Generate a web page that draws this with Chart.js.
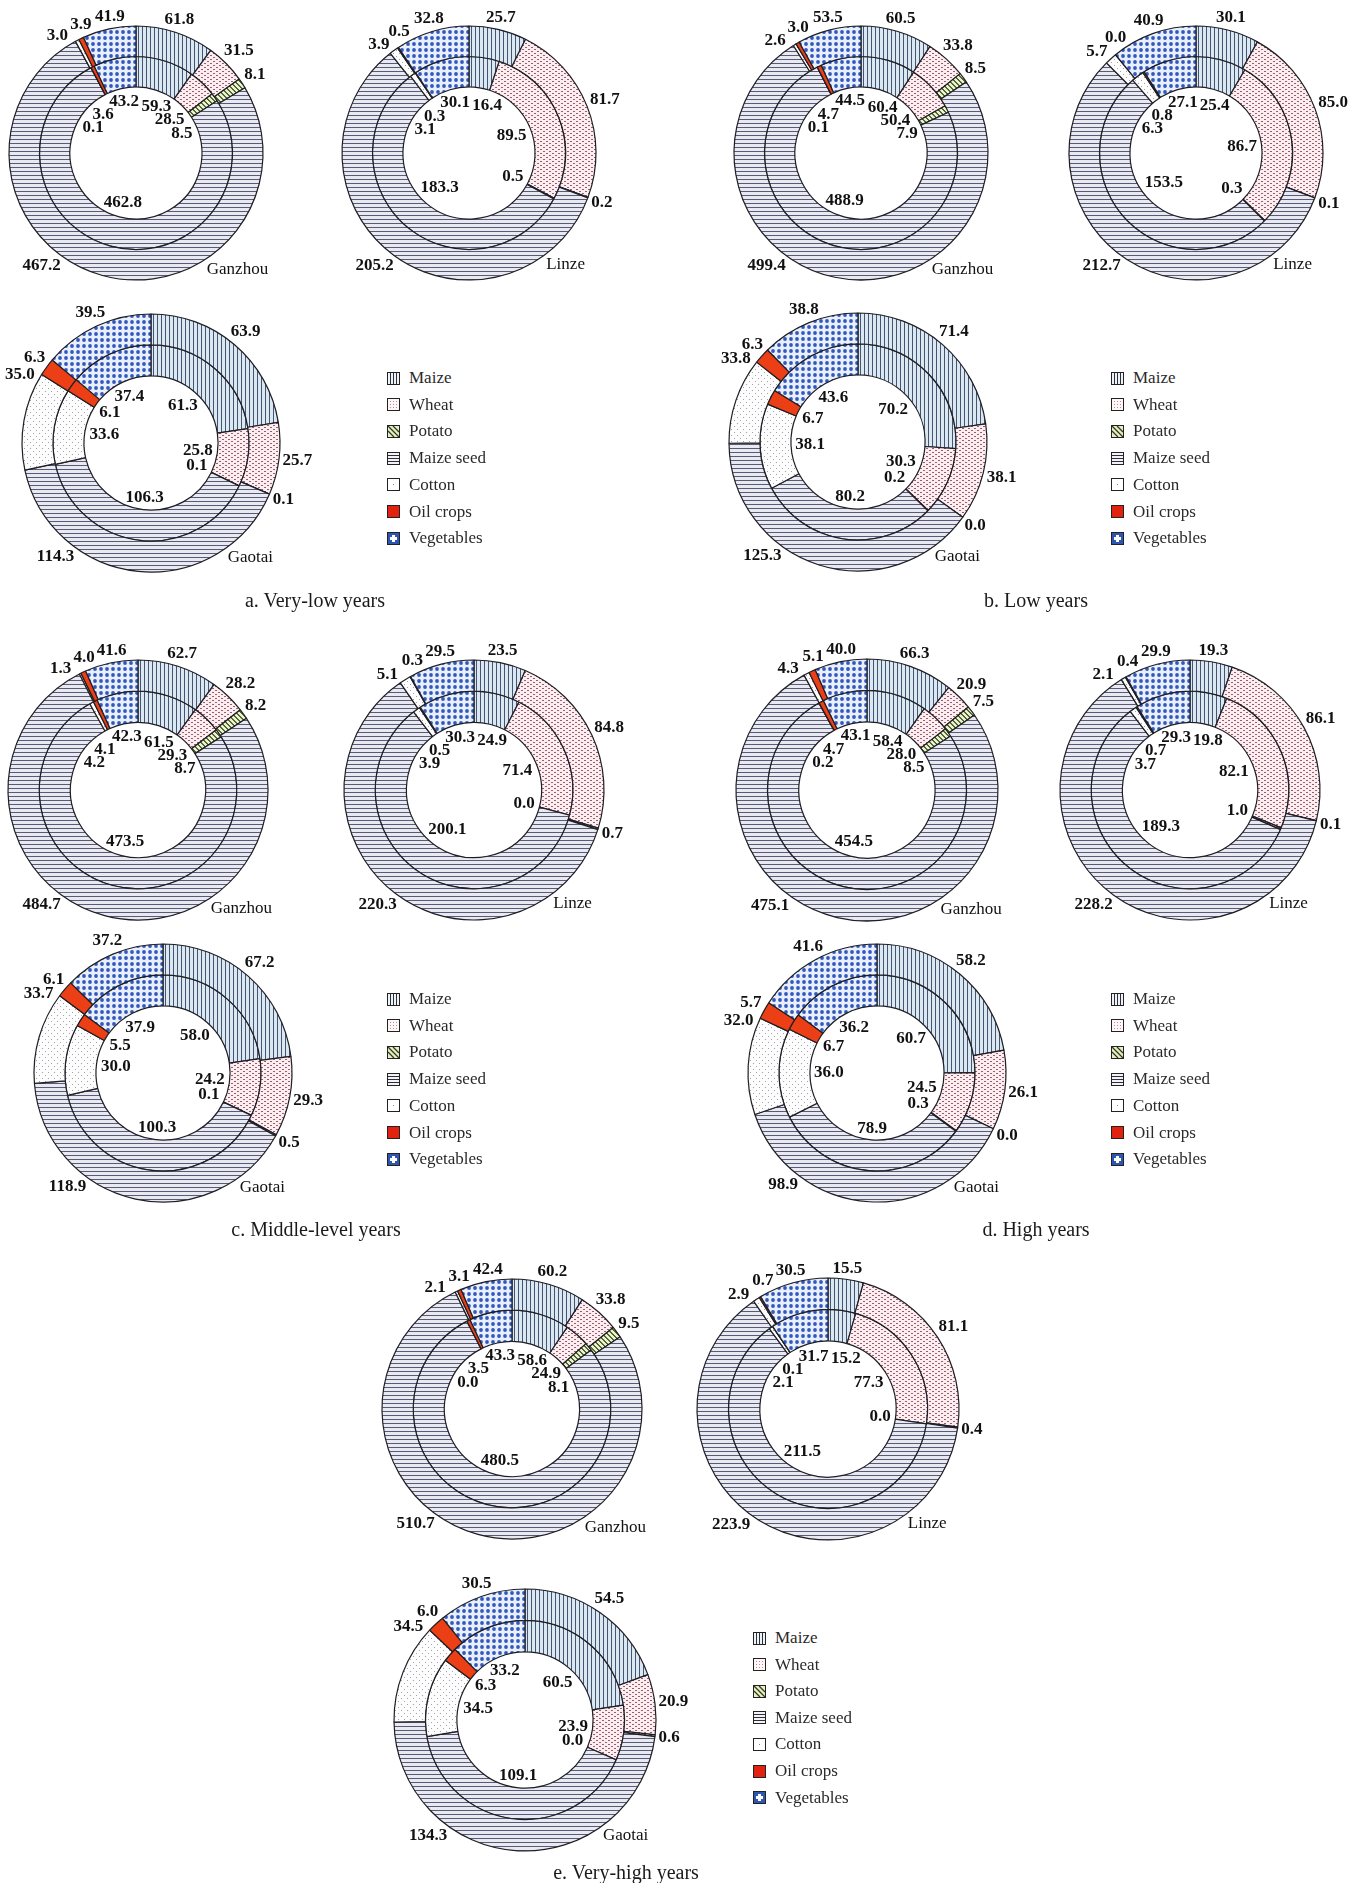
<!DOCTYPE html>
<html>
<head>
<meta charset="utf-8">
<title>Crop area structure by county</title>
<script src="https://cdn.jsdelivr.net/npm/chart.js@4.4.1/dist/chart.umd.min.js"></script>
<style>
  html, body { margin: 0; padding: 0; background: #fff; }
  #page { position: relative; width: 1364px; height: 1883px; overflow: hidden;
          font-family: "Liberation Serif", "Times New Roman", serif; color: #1a1a1a; }
  canvas.ring { position: absolute; }
  .legend-row { position: absolute; height: 20px; display: flex; align-items: center;
                white-space: nowrap; font-size: 17px; color: #2a2a2a; }
  .legend-row canvas { margin-right: 9px; }
  .caption { position: absolute; font-size: 20px; white-space: nowrap; color: #1a1a1a;
             transform: translate(-50%, -50%); }
</style>
</head>
<body>
<div id="page"></div>
<script>
// Crop categories, clockwise from 12 o'clock
const crops = ['Maize', 'Wheat', 'Potato', 'Maize seed', 'Cotton', 'Oil crops', 'Vegetables'];

// Planting area, outer ring and inner ring of each county
// a. Very-low years
const ganzhouVeryLowOuter = [61.8, 31.5, 8.1, 467.2, 3.0, 3.9, 41.9];
const ganzhouVeryLowInner = [59.3, 28.5, 8.5, 462.8, 0.1, 3.6, 43.2];
const linzeVeryLowOuter   = [25.7, 81.7, 0.2, 205.2, 3.9, 0.5, 32.8];
const linzeVeryLowInner   = [16.4, 89.5, 0.5, 183.3, 3.1, 0.3, 30.1];
const gaotaiVeryLowOuter  = [63.9, 25.7, 0.1, 114.3, 35.0, 6.3, 39.5];
const gaotaiVeryLowInner  = [61.3, 25.8, 0.1, 106.3, 33.6, 6.1, 37.4];
// b. Low years
const ganzhouLowOuter = [60.5, 33.8, 8.5, 499.4, 2.6, 3.0, 53.5];
const ganzhouLowInner = [60.4, 50.4, 7.9, 488.9, 0.1, 4.7, 44.5];
const linzeLowOuter   = [30.1, 85.0, 0.1, 212.7, 5.7, 0.0, 40.9];
const linzeLowInner   = [25.4, 86.7, 0.3, 153.5, 6.3, 0.8, 27.1];
const gaotaiLowOuter  = [71.4, 38.1, 0.0, 125.3, 33.8, 6.3, 38.8];
const gaotaiLowInner  = [70.2, 30.3, 0.2, 80.2, 38.1, 6.7, 43.6];
// c. Middle-level years
const ganzhouMiddleOuter = [62.7, 28.2, 8.2, 484.7, 1.3, 4.0, 41.6];
const ganzhouMiddleInner = [61.5, 29.3, 8.7, 473.5, 4.2, 4.1, 42.3];
const linzeMiddleOuter   = [23.5, 84.8, 0.7, 220.3, 5.1, 0.3, 29.5];
const linzeMiddleInner   = [24.9, 71.4, 0.0, 200.1, 3.9, 0.5, 30.3];
const gaotaiMiddleOuter  = [67.2, 29.3, 0.5, 118.9, 33.7, 6.1, 37.2];
const gaotaiMiddleInner  = [58.0, 24.2, 0.1, 100.3, 30.0, 5.5, 37.9];
// d. High years
const ganzhouHighOuter = [66.3, 20.9, 7.5, 475.1, 4.3, 5.1, 40.0];
const ganzhouHighInner = [58.4, 28.0, 8.5, 454.5, 0.2, 4.7, 43.1];
const linzeHighOuter   = [19.3, 86.1, 0.1, 228.2, 2.1, 0.4, 29.9];
const linzeHighInner   = [19.8, 82.1, 1.0, 189.3, 3.7, 0.7, 29.3];
const gaotaiHighOuter  = [58.2, 26.1, 0.0, 98.9, 32.0, 5.7, 41.6];
const gaotaiHighInner  = [60.7, 24.5, 0.3, 78.9, 36.0, 6.7, 36.2];
// e. Very-high years
const ganzhouVeryHighOuter = [60.2, 33.8, 9.5, 510.7, 2.1, 3.1, 42.4];
const ganzhouVeryHighInner = [58.6, 24.9, 8.1, 480.5, 0.0, 3.5, 43.3];
const linzeVeryHighOuter   = [15.5, 81.1, 0.4, 223.9, 2.9, 0.7, 30.5];
const linzeVeryHighInner   = [15.2, 77.3, 0.0, 211.5, 2.1, 0.1, 31.7];
const gaotaiVeryHighOuter  = [54.5, 20.9, 0.6, 134.3, 34.5, 6.0, 30.5];
const gaotaiVeryHighInner  = [60.5, 23.9, 0.0, 109.1, 34.5, 6.3, 33.2];

// Page layout: panels, chart centres and radii
const panels = [
  { caption: 'a. Very-low years', capX: 315, capY: 600, legX: 387, legY: 378, legStep: 26.7,
    charts: [
      { name: 'Ganzhou', outer: ganzhouVeryLowOuter, inner: ganzhouVeryLowInner, cx: 136, cy: 153, r: 127 },
      { name: 'Linze',   outer: linzeVeryLowOuter,   inner: linzeVeryLowInner,   cx: 469, cy: 153, r: 127 },
      { name: 'Gaotai',  outer: gaotaiVeryLowOuter,  inner: gaotaiVeryLowInner,  cx: 151, cy: 443, r: 129 } ] },
  { caption: 'b. Low years', capX: 1036, capY: 600, legX: 1111, legY: 378, legStep: 26.7,
    charts: [
      { name: 'Ganzhou', outer: ganzhouLowOuter, inner: ganzhouLowInner, cx: 861, cy: 153, r: 127 },
      { name: 'Linze',   outer: linzeLowOuter,   inner: linzeLowInner,   cx: 1196, cy: 153, r: 127 },
      { name: 'Gaotai',  outer: gaotaiLowOuter,  inner: gaotaiLowInner,  cx: 858, cy: 442, r: 129 } ] },
  { caption: 'c. Middle-level years', capX: 316, capY: 1229, legX: 387, legY: 999, legStep: 26.7,
    charts: [
      { name: 'Ganzhou', outer: ganzhouMiddleOuter, inner: ganzhouMiddleInner, cx: 138, cy: 790, r: 130 },
      { name: 'Linze',   outer: linzeMiddleOuter,   inner: linzeMiddleInner,   cx: 474, cy: 790, r: 130 },
      { name: 'Gaotai',  outer: gaotaiMiddleOuter,  inner: gaotaiMiddleInner,  cx: 163, cy: 1073, r: 129 } ] },
  { caption: 'd. High years', capX: 1036, capY: 1229, legX: 1111, legY: 999, legStep: 26.7,
    charts: [
      { name: 'Ganzhou', outer: ganzhouHighOuter, inner: ganzhouHighInner, cx: 867, cy: 790, r: 131 },
      { name: 'Linze',   outer: linzeHighOuter,   inner: linzeHighInner,   cx: 1190, cy: 790, r: 130 },
      { name: 'Gaotai',  outer: gaotaiHighOuter,  inner: gaotaiHighInner,  cx: 877, cy: 1073, r: 129 } ] },
  { caption: 'e. Very-high years', capX: 626, capY: 1872, legX: 753, legY: 1638, legStep: 26.6,
    charts: [
      { name: 'Ganzhou', outer: ganzhouVeryHighOuter, inner: ganzhouVeryHighInner, cx: 512, cy: 1409, r: 130 },
      { name: 'Linze',   outer: linzeVeryHighOuter,   inner: linzeVeryHighInner,   cx: 828, cy: 1409, r: 131 },
      { name: 'Gaotai',  outer: gaotaiVeryHighOuter,  inner: gaotaiVeryHighInner,  cx: 525, cy: 1720, r: 131 } ] }
];

// ---- hatch fills ----
function tile(w, h, paint) {
  const c = document.createElement('canvas');
  c.width = w; c.height = h;
  paint(c.getContext('2d'), w, h);
  return c;
}
const tiles = [
  // Maize: vertical hatch
  tile(4, 4, g => { g.fillStyle = '#dae8f2'; g.fillRect(0, 0, 4, 4);
                    g.fillStyle = '#485372'; g.fillRect(0, 0, 1, 4); }),
  // Wheat: staggered dashes
  tile(6, 4, g => { g.fillStyle = '#faeef1'; g.fillRect(0, 0, 6, 4);
                    g.fillStyle = '#9d5b6e'; g.fillRect(0, 0, 2, 1); g.fillRect(3, 2, 2, 1); }),
  // Potato: diagonal hatch
  tile(5, 5, g => { g.fillStyle = '#ecf4cb'; g.fillRect(0, 0, 5, 5);
                    g.fillStyle = '#55663a';
                    for (let i = 0; i < 5; i++) { g.fillRect(i, i, 1, 1); g.fillRect((i + 1) % 5, i, 1, 1); } }),
  // Maize seed: horizontal hatch
  tile(4, 4, g => { g.fillStyle = '#e9e9f1'; g.fillRect(0, 0, 4, 4);
                    g.fillStyle = '#575b76'; g.fillRect(0, 0, 4, 1); }),
  // Cotton: sparse dots
  tile(6, 6, g => { g.fillStyle = '#fdfdfd'; g.fillRect(0, 0, 6, 6);
                    g.fillStyle = '#a2a2ad'; g.fillRect(0, 0, 1, 1); g.fillRect(3, 3, 1, 1); }),
  null,
  // Vegetables: blue dot grid
  tile(6, 6, g => { g.fillStyle = '#e9f0fb'; g.fillRect(0, 0, 6, 6);
                    g.fillStyle = '#3258bd'; g.beginPath(); g.arc(3, 3, 1.9, 0, Math.PI * 2); g.fill(); })
];
const patCtx = document.createElement('canvas').getContext('2d');
const fills = tiles.map(t => t ? patCtx.createPattern(t, 'repeat') : '#ec3f16');

// ---- value labels around the rings ----
const GAP = 3;
const LABEL_FONT = 'bold 17px "Liberation Serif", "Times New Roman", serif';
const NAME_FONT = '17px "Liberation Serif", "Times New Roman", serif';
const SEED_LABEL_ANGLE = 220;   // outer Maize seed label sits lower left
const NAME_ANGLE = 139;         // county name sits lower right
const COTTON_ANCHOR = 0.9;      // outer Cotton label leans toward the end of its slice

function placeAll(items, cx, cy, r, outside) {
  const place = it => {
    const a = it.ang * Math.PI / 180, s = Math.sin(a), c = Math.cos(a);
    const ext = it.w / 2 * Math.abs(s) + it.h / 2 * Math.abs(c);
    const rr = outside ? r + GAP + ext : r - GAP - 1 - ext;
    it.x = cx + rr * s; it.y = cy - rr * c;
  };
  for (let k = 0; k < 900; k++) {
    items.forEach(place);
    let hit = false;
    for (let i = 0; i < items.length; i++) {
      for (let j = i + 1; j < items.length; j++) {
        const A = items[i], B = items[j];
        if (Math.abs(A.x - B.x) < (A.w + B.w) / 2 + 2 && Math.abs(A.y - B.y) < (A.h + B.h) / 2 + 1) {
          const tot = A.mob + B.mob;
          if (!tot) continue;
          hit = true;
          const d = ((B.ang - A.ang) % 360 + 540) % 360 - 180;
          const sg = d >= 0 ? 1 : -1;
          A.ang -= sg * A.mob / tot;
          B.ang += sg * B.mob / tot;
        }
      }
    }
    if (!hit) break;
  }
  items.forEach(place);
}

const ringLabels = {
  id: 'ringLabels',
  afterDatasetsDraw(chart, args, opts) {
    const ctx = chart.ctx;
    ctx.save();
    ctx.textAlign = 'center';
    ctx.textBaseline = 'middle';
    ctx.fillStyle = '#111';
    chart.data.datasets.forEach((ds, di) => {
      const meta = chart.getDatasetMeta(di);
      const outside = di === 0;
      const total = ds.data.reduce((s, v) => s + v, 0);
      const items = [];
      let cx = 0, cy = 0, rad = 0;
      meta.data.forEach((arc, i) => {
        const p = arc.getProps(['x', 'y', 'startAngle', 'endAngle', 'innerRadius', 'outerRadius'], true);
        cx = p.x; cy = p.y;
        rad = outside ? p.outerRadius : p.innerRadius;
        const f = outside && i === 4 ? COTTON_ANCHOR : 0.5;
        const at = p.startAngle + (p.endAngle - p.startAngle) * f;
        const deg = (at + Math.PI / 2) * 180 / Math.PI;
        const share = total ? ds.data[i] / total : 0;
        const text = ds.data[i].toFixed(1);
        ctx.font = LABEL_FONT;
        const fixedSeed = outside && i === 3;
        items.push({ text, font: LABEL_FONT, w: ctx.measureText(text).width, h: 12,
                     ang: fixedSeed ? SEED_LABEL_ANGLE : deg,
                     mob: fixedSeed ? 0 : (share > 0.02 ? 0.02 / share : 1) });
      });
      if (outside) {
        ctx.font = NAME_FONT;
        items.push({ text: opts.name, font: NAME_FONT, w: ctx.measureText(opts.name).width, h: 12,
                     ang: NAME_ANGLE, mob: 0 });
      }
      placeAll(items, cx, cy, rad, outside);
      items.forEach(it => { ctx.font = it.font; ctx.fillText(it.text, it.x, it.y); });
    });
    ctx.restore();
  }
};

// ---- legend swatches ----
function drawSwatch(g, k) {
  const s = 13;
  g.clearRect(0, 0, s, s);
  const bg = ['#eef3f8', '#fdf7f8', '#e5efc2', '#f3f3f7', '#ffffff', '#e2210f', '#2c56b2'][k];
  g.fillStyle = bg; g.fillRect(0, 0, s, s);
  g.fillStyle = '#2e2e38';
  if (k === 0) { [3, 6, 9].forEach(x => g.fillRect(x, 1, 1, 11)); }
  if (k === 1) { g.fillStyle = '#c58896';
                 [[3, 3], [6, 3], [9, 3], [3, 9], [6, 9], [9, 9], [3, 6], [9, 6]].forEach(([x, y]) => g.fillRect(x, y, 1, 1));
                 g.fillRect(6, 6, 1, 1); }
  if (k === 2) { g.strokeStyle = '#2f3a20'; g.lineWidth = 1.3;
                 g.beginPath(); g.moveTo(1, 1); g.lineTo(12, 12); g.moveTo(1, 6); g.lineTo(7, 12);
                 g.moveTo(6, 1); g.lineTo(12, 7); g.stroke(); }
  if (k === 3) { [3, 6, 9].forEach(y => g.fillRect(1, y, 11, 1)); }
  if (k === 4) { g.fillStyle = '#8a8a96'; g.fillRect(6, 6, 1, 1); }
  if (k === 6) { g.fillStyle = '#ffffff'; g.fillRect(5, 3, 3, 7); g.fillRect(3, 5, 7, 3); }
  g.strokeStyle = '#222'; g.lineWidth = 1; g.strokeRect(0.5, 0.5, s - 1, s - 1);
}

// ---- build the page ----
const page = document.getElementById('page');
const HALF = 190;

panels.forEach(panel => {
  panel.charts.forEach(c => {
    const cv = document.createElement('canvas');
    cv.className = 'ring';
    cv.width = HALF * 2; cv.height = HALF * 2;
    cv.style.left = (c.cx - HALF) + 'px';
    cv.style.top = (c.cy - HALF) + 'px';
    page.appendChild(cv);
    new Chart(cv, {
      type: 'doughnut',
      data: {
        labels: crops,
        datasets: [
          { data: c.outer, backgroundColor: fills, borderColor: '#1e1e24', borderWidth: 1.2 },
          { data: c.inner, backgroundColor: fills, borderColor: '#1e1e24', borderWidth: 1.2 }
        ]
      },
      options: {
        responsive: false,
        animation: false,
        events: [],
        radius: c.r,
        cutout: '52%',
        layout: { padding: 0 },
        plugins: {
          legend: { display: false },
          tooltip: { enabled: false },
          ringLabels: { name: c.name }
        }
      },
      plugins: [ringLabels]
    });
  });

  crops.forEach((crop, k) => {
    const row = document.createElement('div');
    row.className = 'legend-row';
    row.style.left = panel.legX + 'px';
    row.style.top = (panel.legY + k * panel.legStep - 10) + 'px';
    const sw = document.createElement('canvas');
    sw.width = 13; sw.height = 13;
    drawSwatch(sw.getContext('2d'), k);
    row.appendChild(sw);
    const tx = document.createElement('span');
    tx.textContent = crop;
    row.appendChild(tx);
    page.appendChild(row);
  });

  const cap = document.createElement('div');
  cap.className = 'caption';
  cap.style.left = panel.capX + 'px';
  cap.style.top = panel.capY + 'px';
  cap.textContent = panel.caption;
  page.appendChild(cap);
});
</script>
</body>
</html>
